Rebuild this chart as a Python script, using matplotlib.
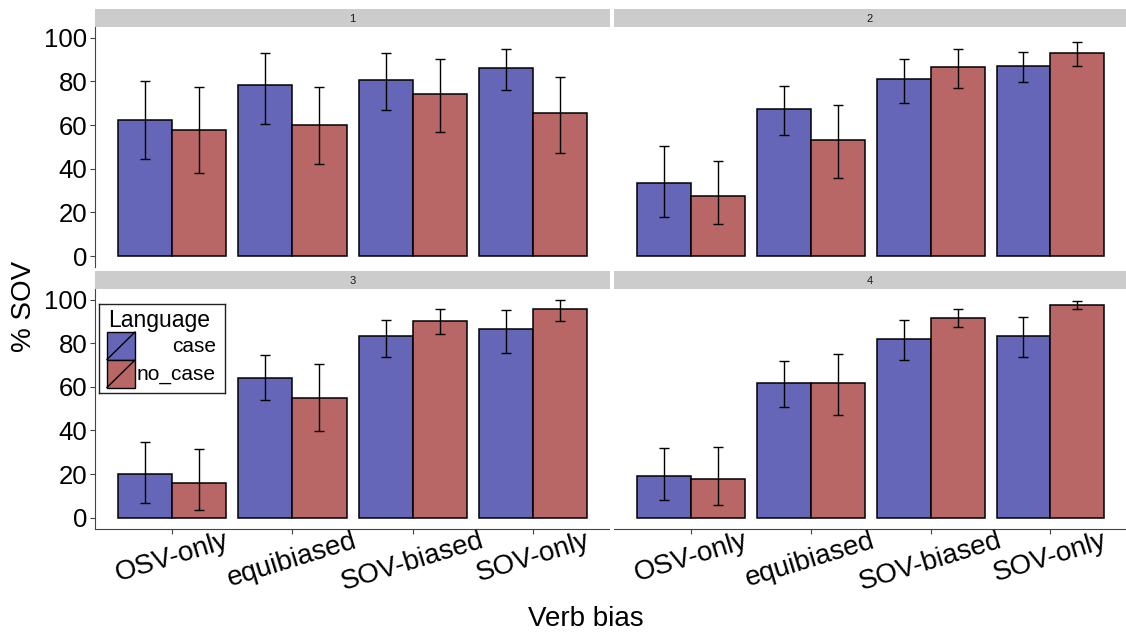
import matplotlib
matplotlib.use("Agg")
import matplotlib.pyplot as plt
import numpy as np
from matplotlib.patches import Rectangle

plt.rcParams["font.family"] = ["Liberation Sans", "DejaVu Sans"]

# Percent SOV by verb bias, one list per facet (1-4)
verb_bias = ["OSV-only", "equibiased", "SOV-biased", "SOV-only"]
facets = ["1", "2", "3", "4"]

case_mean = [
    [62.2, 78.4, 80.7, 85.9],
    [33.3, 67.4, 81.2, 87.0],
    [20.2, 64.0, 83.3, 86.4],
    [19.0, 62.0, 82.1, 83.5],
]
case_low = [
    [44.5, 60.6, 66.7, 76.0],
    [17.9, 55.5, 69.9, 79.7],
    [6.7, 53.9, 73.8, 75.5],
    [8.3, 50.7, 72.4, 73.7],
]
case_high = [
    [80.3, 92.8, 93.1, 95.0],
    [50.3, 78.1, 90.2, 93.3],
    [34.5, 74.4, 90.5, 95.3],
    [32.0, 72.1, 90.5, 92.0],
]

nocase_mean = [
    [57.8, 60.1, 74.3, 65.4],
    [27.4, 53.2, 86.5, 93.0],
    [16.1, 55.0, 90.0, 95.6],
    [17.8, 61.7, 91.7, 97.5],
]
nocase_low = [
    [38.2, 42.2, 56.6, 47.2],
    [14.5, 35.8, 76.9, 87.2],
    [3.7, 39.7, 84.1, 90.2],
    [5.8, 47.3, 87.3, 95.6],
]
nocase_high = [
    [77.4, 77.2, 90.4, 82.1],
    [43.7, 69.4, 94.6, 97.9],
    [31.7, 70.4, 95.9, 99.7],
    [32.5, 75.3, 95.6, 99.5],
]

languages = ["case", "no_case"]
colors = {"case": "#6666B8", "no_case": "#B86666"}
axis_grey = "#444444"

W, H = 1126, 632


def px_rect(x0, y0, x1, y1):
    # pixel box (top-left origin) -> figure fraction rect
    return [x0 / W, 1 - y1 / H, (x1 - x0) / W, (y1 - y0) / H]


fig = plt.figure(figsize=(W / 100, H / 100), dpi=100)

panel_boxes = [
    (95, 27, 609, 267),
    (614, 27, 1126, 267),
    (95, 289, 609, 528.6),
    (614, 289, 1126, 528.6),
]
strip_boxes = [
    (95, 9, 610, 27),
    (614, 9, 1126, 27),
    (95, 271, 610, 289),
    (614, 271, 1126, 289),
]

x = np.arange(1, len(verb_bias) + 1)
bar_w = 0.45

for i, facet in enumerate(facets):
    ax = fig.add_axes(px_rect(*panel_boxes[i]))
    series = [
        ("case", case_mean[i], case_low[i], case_high[i], -bar_w / 2),
        ("no_case", nocase_mean[i], nocase_low[i], nocase_high[i], bar_w / 2),
    ]
    for lang, mean, low, high, off in series:
        mean = np.array(mean)
        yerr = [mean - np.array(low), np.array(high) - mean]
        ax.bar(x + off, mean, width=bar_w, color=colors[lang],
               edgecolor="black", linewidth=1.1, zorder=2)
        ax.errorbar(x + off, mean, yerr=yerr, fmt="none", ecolor="black",
                    elinewidth=1.0, capsize=3.8, capthick=1.0, zorder=3)

    ax.set_xlim(0.36, 4.63)
    ax.set_ylim(-5, 104.9)
    for s in ["top", "right"]:
        ax.spines[s].set_visible(False)
    ax.spines["left"].set_color(axis_grey)
    ax.spines["bottom"].set_color(axis_grey)
    ax.tick_params(colors=axis_grey, labelcolor="black", labelsize=18.5,
                   length=3.5, width=0.8, pad=2)

    left_col = i % 2 == 0
    bottom_row = i >= 2
    if left_col:
        ax.set_yticks([0, 20, 40, 60, 80, 100])
    else:
        ax.spines["left"].set_visible(False)
        ax.set_yticks([])
    if bottom_row:
        ax.set_xticks(x)
        ax.set_xticklabels(verb_bias, rotation=17, ha="center", va="top",
                           fontsize=20)
        ax.tick_params(axis="x", pad=-4)
    else:
        ax.spines["bottom"].set_visible(False)
        ax.set_xticks([])

    sax = fig.add_axes(px_rect(*strip_boxes[i]))
    sax.set_facecolor("#CCCCCC")
    sax.set_xticks([])
    sax.set_yticks([])
    for s in sax.spines.values():
        s.set_visible(False)
    sax.text(0.5, 0.45, facet, ha="center", va="center", fontsize=8,
             color="#1A1A1A", transform=sax.transAxes)

# legend box drawn in pixel units inside the lower-left panel
lx0, ly0, lx1, ly1 = 99, 304, 225, 393
lax = fig.add_axes(px_rect(lx0, ly0, lx1, ly1))
lax.set_xlim(lx0, lx1)
lax.set_ylim(ly1, ly0)
lax.set_xticks([])
lax.set_yticks([])
for s in lax.spines.values():
    s.set_color("#222222")
    s.set_linewidth(1.0)
lax.text(108, 320, "Language", fontsize=16.5, ha="left", va="center")
key_tops = [332, 360]
for lang, top in zip(languages, key_tops):
    lax.add_patch(Rectangle((107, top), 28, 27.5, facecolor=colors[lang],
                            edgecolor="black", linewidth=1.0))
    lax.plot([107, 135], [top + 27.5, top], color="black", linewidth=1.0)
    lax.text(216, top + 14, lang, fontsize=15, ha="right", va="center")

fig.text(586 / W, 1 - 626 / H, "Verb bias", fontsize=20, ha="center",
         va="baseline")
fig.text(24 / W, 1 - 306 / H, "% SOV", fontsize=20, ha="center",
         va="center", rotation=90)

fig.savefig("out.png", dpi=100)
